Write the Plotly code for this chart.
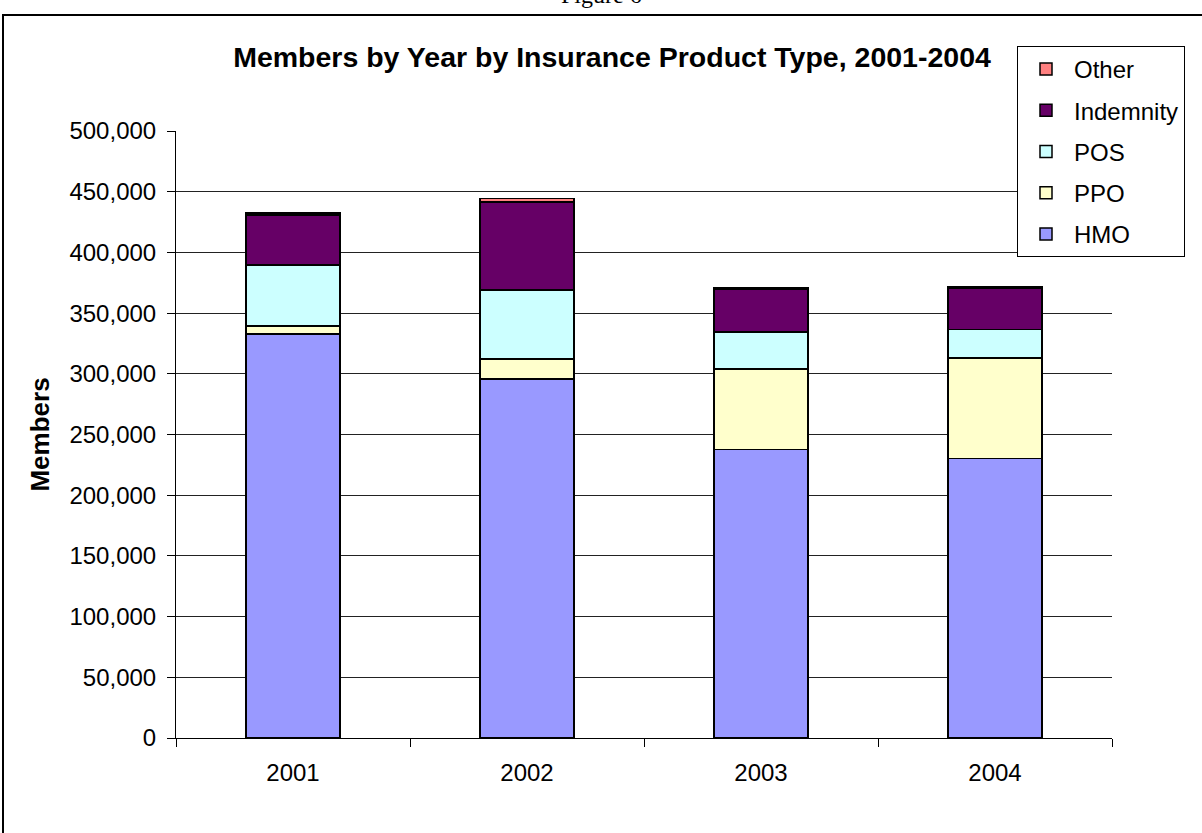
import plotly.graph_objects as go

# Membership counts by insurance product type
years = ["2001", "2002", "2003", "2004"]
hmo = [332800, 295700, 237800, 230300]
ppo = [6600, 16500, 66200, 82900]
pos = [50200, 57000, 30400, 23400]
indemnity = [41200, 72500, 35300, 34000]
other = [1700, 2500, 1000, 1400]

series = [
    ("HMO", hmo, "#9999FF"),
    ("PPO", ppo, "#FFFFCC"),
    ("POS", pos, "#CCFFFF"),
    ("Indemnity", indemnity, "#660066"),
    ("Other", other, "#FF8080"),
]

W, H = 1202, 833
L, R, T, B = 176, 90, 131, 95
pw, ph = W - L - R, H - T - B


def px_x(x):
    return (x - L) / pw


def px_y(y):
    return (H - B - y) / ph


fig = go.Figure()
for i, (name, vals, color) in enumerate(series):
    fig.add_trace(go.Bar(
        x=years, y=vals, name=name, legendgroup=name,
        legendrank=len(series) - i,
        marker=dict(color=color, line=dict(color="black", width=1.5)),
    ))

fig.update_layout(
    width=W, height=H,
    margin=dict(l=L, r=R, t=T, b=B, autoexpand=False),
    barmode="stack", bargap=0.6,
    paper_bgcolor="white", plot_bgcolor="white",
    font=dict(family="Liberation Sans, Arial, sans-serif", size=24, color="black"),
    title=dict(
        text="<b>Members by Year by Insurance Product Type, 2001-2004</b>",
        font=dict(size=28.5, color="black"),
        x=px_x(612), xref="paper", xanchor="center",
        y=1 - 57 / H, yanchor="middle",
    ),
    legend=dict(
        x=px_x(1017), y=px_y(46), xanchor="left", yanchor="top",
        bgcolor="white", bordercolor="black", borderwidth=1,
        font=dict(size=24), traceorder="grouped",
        tracegroupgap=7, itemwidth=46, entrywidth=190,
    ),
    xaxis=dict(
        type="category", showgrid=False, showline=True, linecolor="black",
        linewidth=1, ticks="outside", ticklen=8, tickcolor="black",
        tickson="boundaries", tickfont=dict(size=24), ticklabelstandoff=13,
    ),
    yaxis=dict(
        range=[0, 500000], dtick=50000, tickformat=",d",
        showgrid=True, gridcolor="#222222", gridwidth=1,
        showline=True, linecolor="black", linewidth=1,
        ticks="outside", ticklen=8, tickcolor="black",
        zeroline=False, tickfont=dict(size=24), ticklabelstandoff=6,
        title=dict(text="<b>Members</b>", font=dict(size=26), standoff=12),
    ),
    shapes=[
        dict(type="rect", xref="paper", yref="paper",
             x0=px_x(3), x1=px_x(1215), y0=px_y(15), y1=px_y(850),
             line=dict(color="black", width=2), fillcolor="rgba(0,0,0,0)",
             layer="below"),
    ],
    annotations=[
        dict(text="Figure 6", xref="paper", yref="paper",
             x=px_x(601), y=px_y(-5), xanchor="center", yanchor="middle",
             showarrow=False,
             font=dict(family="Liberation Serif, Times New Roman, serif",
                       size=24, color="black")),
    ],
)

fig.write_html("out.html")
